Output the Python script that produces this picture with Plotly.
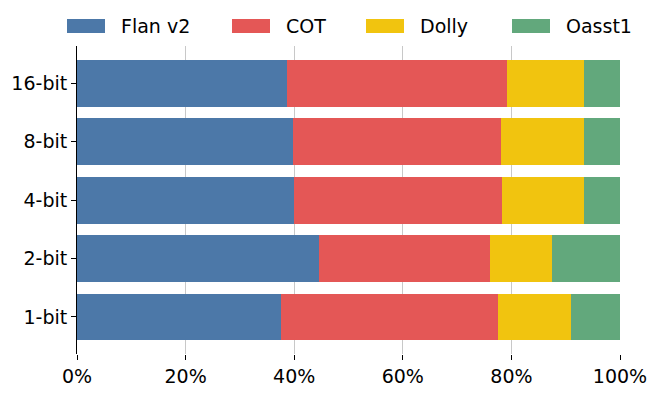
import plotly.graph_objects as go

categories = ["1-bit", "2-bit", "4-bit", "8-bit", "16-bit"]
flan = [37.5, 44.6, 39.9, 39.8, 38.7]
cot = [40.1, 31.5, 38.4, 38.2, 40.4]
dolly = [13.4, 11.3, 15.0, 15.3, 14.2]
oasst = [9.0, 12.6, 6.7, 6.7, 6.7]

series = [("Flan v2", flan, "#4C78A8"),
          ("COT", cot, "#E45756"),
          ("Dolly", dolly, "#F1C40F"),
          ("Oasst1", oasst, "#62A87C")]

# the page body has an 8px margin, so the figure is shrunk by that much
PAD = 8
W, H = 657 - PAD, 393 - PAD
L, R, T, B = 77 - PAD, 37, 46 - PAD, 39
pw, ph = W - L - R, H - T - B

def px(x):
    return (x - PAD - L) / pw

def py(y):
    return (PAD + T + ph - y) / ph

fig = go.Figure()
for name, vals, color in series:
    fig.add_trace(go.Bar(y=categories, x=[v / 100 for v in vals], name=name,
                         orientation="h", marker_color=color,
                         marker_line_width=0, showlegend=False))

# legend drawn by hand: wide colour patches like the original
box_left = [67, 232, 366, 512]
for (name, vals, color), bx in zip(series, box_left):
    fig.add_shape(type="rect", xref="paper", yref="paper",
                  x0=px(bx), x1=px(bx + 38), y0=py(33), y1=py(19),
                  fillcolor=color, line_width=0)
    fig.add_annotation(xref="paper", yref="paper", x=px(bx + 52), y=py(26),
                       text=name, showarrow=False, xanchor="left",
                       yanchor="middle", font=dict(size=19))

fig.update_layout(
    barmode="stack",
    bargap=0.2,
    width=W, height=H,
    margin=dict(l=L, r=R, t=T, b=B),
    plot_bgcolor="white", paper_bgcolor="white",
    font=dict(family="DejaVu Sans", size=19, color="black"),
    xaxis=dict(range=[0, 1], tickformat=".0%", dtick=0.2,
               showgrid=True, gridcolor="#c8c8c8", gridwidth=1,
               ticks="outside", ticklen=5, tickcolor="black",
               showline=False, zeroline=False, automargin=False),
    yaxis=dict(range=[-0.635, 4.64], showline=True, linecolor="black",
               linewidth=1, ticks="outside", ticklen=5, tickcolor="black",
               showgrid=False, automargin=False),
)

fig.write_html("out.html")
